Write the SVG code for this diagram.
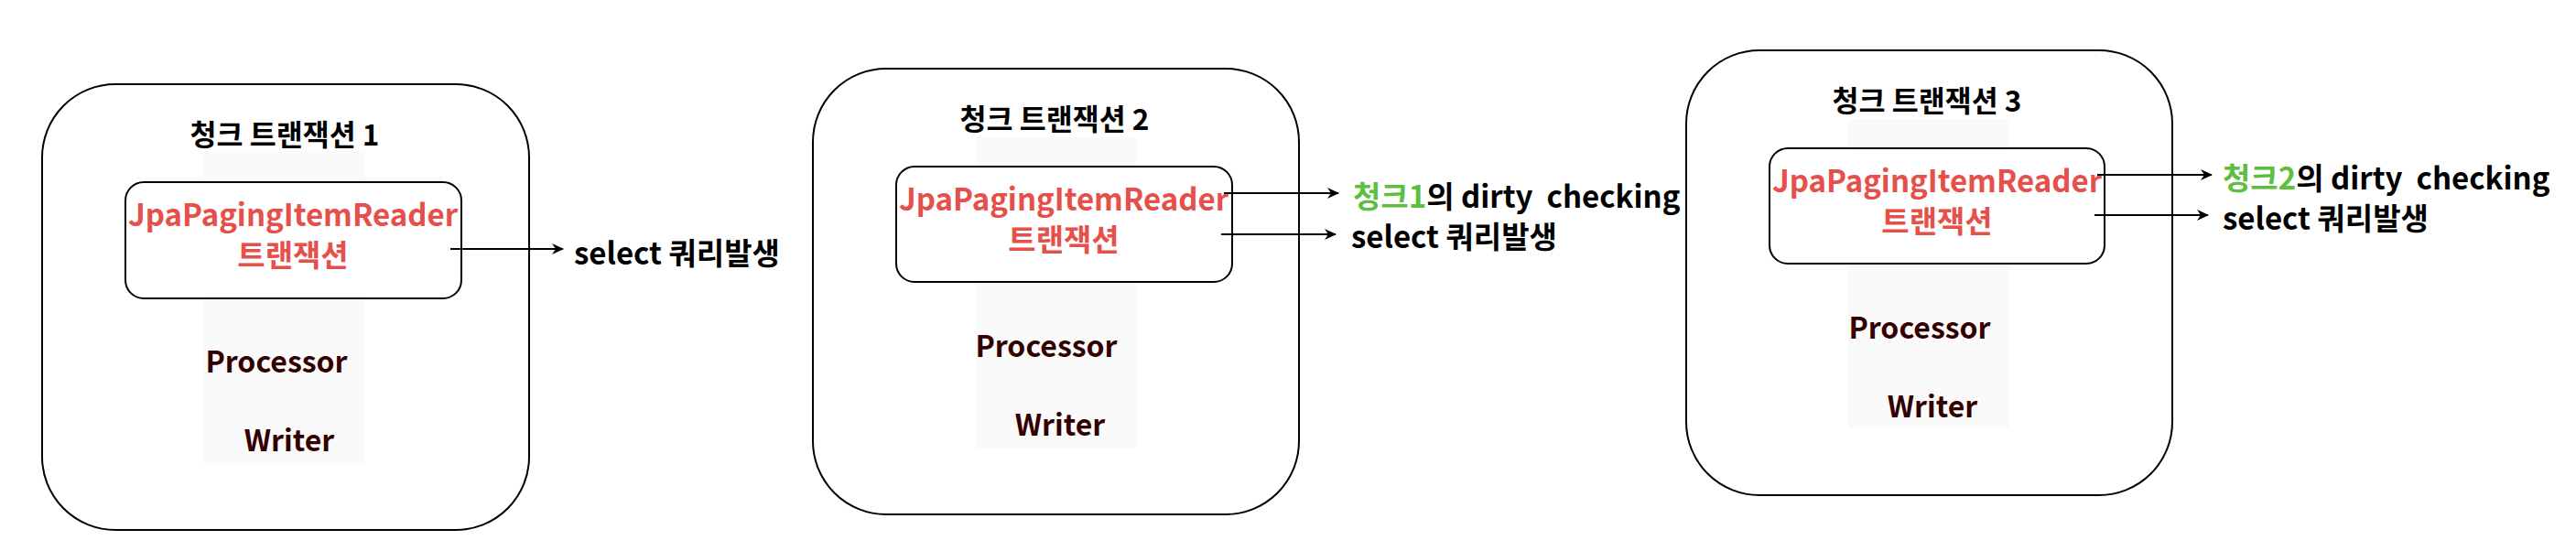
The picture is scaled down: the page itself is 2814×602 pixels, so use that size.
<svg xmlns="http://www.w3.org/2000/svg" width="2814" height="602" viewBox="0 0 2814 602">
<style>
text{font-family:"Noto Sans CJK KR","Noto Sans",sans-serif;font-weight:bold;font-size:33px}
.outer{fill:#fff;stroke:#000;stroke-width:2}
.inner{fill:#fff;stroke:#000;stroke-width:2}
.band{fill:#fafafa}
.title{fill:#000;text-anchor:middle;font-size:31.5px}
.red{fill:#e5504a;text-anchor:middle}
.pw{fill:#330000;text-anchor:middle;font-size:32px}
.lbl{fill:#000}
.grn{fill:#5dbe3f}
.conn{stroke:#000;stroke-width:2;fill:none;marker-end:url(#ah)}
</style>
<defs>
<marker id="ah" markerWidth="14" markerHeight="14" refX="12" refY="7" orient="auto" markerUnits="userSpaceOnUse">
<path d="M0,1 L13,7 L0,13 L4,7 Z" fill="#000"/>
</marker>
</defs>
<rect width="2814" height="602" fill="#fff"/>
<g id="chunk1">
<rect class="outer" x="46" y="92" width="532" height="487" rx="80"/>
<rect class="band" x="223" y="165" width="176" height="342"/>
<text class="title" x="311" y="159">청크 트랜잭션 1</text>
<g id="reader1">
<rect class="inner" x="137" y="199" width="367" height="127" rx="20"/>
<text class="red" x="320" y="247">JpaPagingItemReader</text>
<text class="red" x="320" y="291">트랜잭션</text>
</g>
<text class="pw" x="302" y="407">Processor</text>
<text class="pw" x="316" y="493">Writer</text>
</g>
<g id="chunk2">
<rect class="outer" x="888" y="75" width="531" height="487" rx="80"/>
<rect class="band" x="1066" y="150" width="175" height="340"/>
<text class="title" x="1152" y="142">청크 트랜잭션 2</text>
<g id="reader2">
<rect class="inner" x="979" y="182" width="367" height="126" rx="20"/>
<text class="red" x="1162" y="230">JpaPagingItemReader</text>
<text class="red" x="1162" y="274">트랜잭션</text>
</g>
<text class="pw" x="1143" y="390">Processor</text>
<text class="pw" x="1158" y="476">Writer</text>
</g>
<g id="chunk3">
<rect class="outer" x="1842" y="55" width="531" height="486" rx="80"/>
<rect class="band" x="2019" y="130" width="176" height="338"/>
<text class="title" x="2105" y="122">청크 트랜잭션 3</text>
<g id="reader3">
<rect class="inner" x="1933" y="162" width="366" height="126" rx="20"/>
<text class="red" x="2116" y="210">JpaPagingItemReader</text>
<text class="red" x="2116" y="254">트랜잭션</text>
</g>
<text class="pw" x="2097" y="370">Processor</text>
<text class="pw" x="2111" y="456">Writer</text>
</g>
<g id="connectors">
<line class="conn" x1="492" y1="272" x2="615" y2="272"/>
<line class="conn" x1="1337" y1="211" x2="1462" y2="211"/>
<line class="conn" x1="1334" y1="256" x2="1459" y2="256"/>
<line class="conn" x1="2291" y1="191" x2="2416" y2="191"/>
<line class="conn" x1="2288" y1="235" x2="2412" y2="235"/>
</g>
<g id="labels">
<text class="lbl" x="627" y="289">select 쿼리발생</text>
<text class="lbl" x="1478" y="227" xml:space="preserve"><tspan class="grn">청크1</tspan>의 dirty  checking</text>
<text class="lbl" x="1476" y="271">select 쿼리발생</text>
<text class="lbl" x="2428" y="207" xml:space="preserve"><tspan class="grn">청크2</tspan>의 dirty  checking</text>
<text class="lbl" x="2428" y="251">select 쿼리발생</text>
</g>
</svg>
